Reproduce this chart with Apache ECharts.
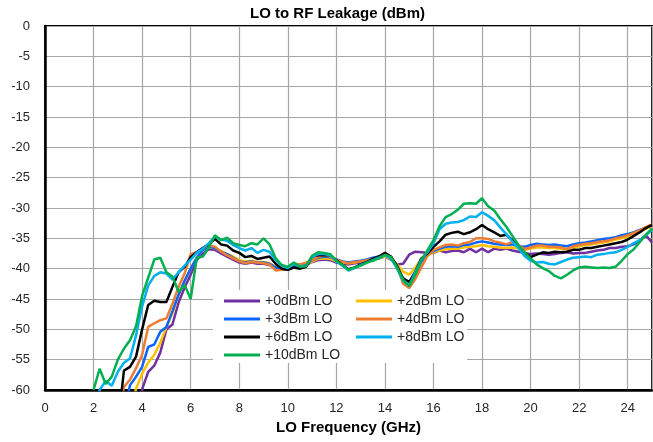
<!DOCTYPE html>
<html><head><meta charset="utf-8">
<script src="https://cdn.jsdelivr.net/npm/echarts@6/dist/echarts.min.js"></script>
<style>html,body{margin:0;padding:0;background:#fff}#c{width:653px;height:442px}</style>
</head><body><div id="c"></div>
<script>
const freq = [2,2.25,2.5,2.75,3,3.25,3.5,3.75,4,4.25,4.5,4.75,5,5.25,5.5,5.75,6,6.25,6.5,6.75,7,7.25,7.5,7.75,8,8.25,8.5,8.75,9,9.25,9.5,9.75,10,10.25,10.5,10.75,11,11.25,11.5,11.75,12,12.25,12.5,12.75,13,13.25,13.5,13.75,14,14.25,14.5,14.75,15,15.25,15.5,15.75,16,16.25,16.5,16.75,17,17.25,17.5,17.75,18,18.25,18.5,18.75,19,19.25,19.5,19.75,20,20.25,20.5,20.75,21,21.25,21.5,21.75,22,22.25,22.5,22.75,23,23.25,23.5,23.75,24,24.25,24.5,24.75,25];
const xTicks = [0,2,4,6,8,10,12,14,16,18,20,22,24];
const yTicks = [0,-5,-10,-15,-20,-25,-30,-35,-40,-45,-50,-55,-60];
const names = ['+0dBm LO','+2dBm LO','+3dBm LO','+4dBm LO','+6dBm LO','+8dBm LO','+10dBm LO'];
const colors = ['#7030a0','#ffc000','#0a64ff','#ed7d31','#000000','#00b0f0','#00b050'];
const lo0 = [null,null,null,null, null,null,null,-66,
 -59.9,-57,-56,-53.8, -50,-49.2,-45.6,-43.1, -41,-38.6,-37.5,-36.8, -36.9,-37.5,-38,-38.5,
 -39,-39.2,-39,-39.2, -39.2,-39.4,-39.8,-40, -40.2,-39.8,-39.3,-39.4, -38.9,-38.6,-38.5,-38.6,
 -39,-39.2,-39.3,-39.1, -39,-38.8,-38.5,-38.3, -38,-38.5,-39.3,-39.2, -37.7,-37.2,-37.3,-37.4,
 -37.4,-37,-37.3,-37.1, -37,-37.3,-36.7,-37.3, -36.7,-37.3,-36.7,-36.9, -36.7,-37,-37.2,-37.4,
 -37.6,-37.5,-37.6,-37.7, -37.6,-37.4,-37.3,-37.5, -37.4,-37.4,-37.2,-37, -36.9,-36.6,-36.6,-36.4,
 -36.3,-36,-35.3,-34.5, -35.7];
const lo2 = [null,null,null,null, null,null,-64,-59.8,
 -57.3,-55.5,-54.2,-52.2, -49.6,-47.4,-44.4,-42, -40,-38.2,-36.9,-36.5, -36.6,-37.1,-37.6,-38,
 -38.6,-38.8,-38.7,-38.9, -38.9,-39.1,-39.7,-39.9, -40,-39.5,-39.4,-39.3, -38.8,-38.4,-38.3,-38.4,
 -38.8,-39,-39.1,-39, -38.8,-38.6,-38.4,-38.2, -38,-38.4,-39.3,-40.5, -41,-39.8,-38.5,-37.8,
 -37.3,-37,-36.8,-36.7, -36.7,-36.5,-36.4,-36.3, -36.1,-36.3,-36.4,-36.5, -36.6,-36.5,-36.7,-36.9,
 -36.7,-36.5,-36.5,-36.6, -36.6,-36.7,-36.8,-36.5, -36.3,-36.1,-36,-35.8, -35.7,-35.5,-35.2,-35,
 -34.7,-34.3,-33.9,-33.4, -33.1];
const lo3 = [null,null,null,null, null,-64,-59.2,-57.8,
 -56.2,-52.9,-52.5,-50.4, -49.6,-47,-44.3,-42, -40,-38.2,-36.9,-36.4, -36.6,-37.2,-37.6,-38.2,
 -38.8,-39,-38.8,-39, -39,-39.2,-39.8,-40, -40,-39.5,-39.4,-39.2, -38.6,-38.2,-38,-38.1,
 -38.5,-38.8,-39,-38.8, -38.7,-38.5,-38.2,-38, -37.8,-38.2,-39.5,-42, -43,-41,-38.9,-37.7,
 -37.1,-36.7,-36.4,-36.3, -36.4,-36.1,-36,-35.7, -35.5,-35.7,-35.9,-36, -36.1,-36,-36.3,-36.4,
 -36.1,-35.9,-36,-36.1, -36,-36.2,-36.3,-36, -35.8,-35.7,-35.5,-35.3, -35.1,-35,-34.8,-34.5,
 -34.3,-34,-33.6,-33.2, -32.9];
const lo4 = [null,null,null,null, -64,-59.5,-58.3,-56.4,
 -54.2,-49.6,-49,-48.5, -48.2,-45.8,-43,-40.8, -37.6,-37.3,-36.6,-36.2, -36.4,-37.2,-37.8,-38.3,
 -38.8,-39.1,-38.9,-39, -39.1,-39.3,-40.3,-40.2, -39.9,-39.2,-39.3,-39, -38.6,-38.1,-37.8,-38,
 -38.5,-38.9,-39.1,-38.9, -38.8,-38.6,-38.4,-38.1, -37.8,-38.3,-39.6,-42.5, -43.2,-41.7,-39.8,-37.9,
 -36.9,-36.5,-36.1,-36, -36.2,-35.8,-35.6,-35, -35,-35.1,-35.5,-35.7, -36,-35.6,-36.1,-36.8,
 -36.5,-36.2,-36.2,-36.4, -36.4,-36.5,-36.8,-36.3, -36.1,-35.9,-35.8,-35.6, -35.5,-35.3,-35,-34.8,
 -34.5,-34.1,-33.7,-33.1, -32.7];
const lo6 = [null,null,null,null, -66,-56.8,-56.2,-54.5,
 -50,-46,-45.3,-45.5, -45.5,-43,-40.6,-39.7, -38.1,-37.3,-36.6,-36, -35.1,-36,-36.2,-37,
 -37.4,-38.1,-37.9,-38.4, -38.2,-38,-39.2,-40, -40.2,-39.8,-40,-39.7, -38,-37.8,-37.8,-37.8,
 -38.6,-39.4,-40.1,-39.8, -39.3,-38.9,-38.4,-38, -37.4,-38,-39.6,-41.6, -42.2,-40.5,-38.3,-37.5,
 -36.4,-35.5,-34.4,-34.1, -33.9,-34.3,-34,-33.5, -32.8,-33.5,-34,-34.6, -34.4,-35.3,-36.4,-37.4,
 -38.1,-37.7,-37.3,-37.4, -37.2,-37.3,-37.2,-36.9, -36.9,-36.6,-36.6,-36.4, -36.2,-36,-35.8,-35.6,
 -35.2,-34.6,-34,-33.3, -32.8];
const lo8 = [-63,-60,-58.5,-59.3, -57,-55.5,-54.8,-51,
 -46.2,-42.8,-41.2,-40.6, -40.8,-41.8,-40.6,-39.5, -38.5,-37.4,-36.7,-35.8, -34.7,-35.2,-35.4,-36.1,
 -36.6,-37,-36.6,-37.4, -36.9,-37.2,-38.6,-39.5, -39.9,-39.2,-39.6,-39.5, -38.1,-37.6,-37.6,-37.8,
 -38.8,-39.5,-40.3,-39.9, -39.4,-39,-38.6,-38.2, -37.8,-38.3,-40,-42, -42.8,-40.6,-38.5,-37.3,
 -35.8,-33.5,-32.6,-32.4, -32.3,-32,-31.4,-31.5, -30.7,-31.3,-32,-33.2, -34.3,-35.5,-36.6,-37.9,
 -38.7,-39,-38.9,-39.2, -39.3,-38.9,-38.5,-38.2, -38.1,-38,-38.1,-37.7, -37.6,-37.4,-37.3,-36.9,
 -36.4,-35.8,-35.3,-34.5, -33.6];
const lo10 = [-60,-56.5,-59,-57.8, -55,-53.2,-51.8,-49.5,
 -44.5,-41.5,-38.5,-38.2, -40.6,-41.3,-43.8,-42.7, -45,-38.2,-38,-36.5, -34.5,-35.3,-34.9,-35.8,
 -36.1,-36.3,-35.8,-36, -35,-36,-38.3,-39.4, -39.7,-39,-39.7,-39.6, -37.9,-37.3,-37.4,-37.6,
 -38.7,-39.4,-40.2,-39.8, -39.5,-39,-38.7,-38.3, -37.7,-38.1,-39.8,-41.8, -42.9,-41,-38.6,-37,
 -35.3,-33,-31.5,-31, -30.3,-29.3,-29.2,-29.3, -28.4,-29.7,-30.4,-31.8, -33.1,-34.6,-36.1,-37.3,
 -38.3,-39.3,-39.9,-40.4, -41.2,-41.6,-41,-40.3, -39.8,-39.7,-39.8,-39.9, -39.8,-39.9,-39.7,-38.7,
 -37.6,-36.8,-35.6,-34.4, -33.4];
const seriesValues = [lo0, lo2, lo3, lo4, lo6, lo8, lo10];

const chart = echarts.init(document.getElementById('c'), null, {renderer:'canvas'});
const lblColor = '#262626';
const legendCommon = {
  orient:'vertical', icon:'rect', itemWidth:36, itemHeight:3, itemGap:4,
  textStyle:{fontSize:14, color:lblColor, fontFamily:'Liberation Sans', lineHeight:14}
};
chart.setOption({
  animation:false,
  backgroundColor:'#fff',
  title:{text:'LO to RF Leakage (dBm)', left:250, top:6, padding:0,
    textStyle:{fontSize:15, fontWeight:'bold', color:'#000', fontFamily:'Liberation Sans'}},
  grid:{left:45, top:26, right:1, bottom:52, show:true, borderColor:'#000', borderWidth:1.8, backgroundColor:'transparent'},
  legend:[
    Object.assign({}, legendCommon, {data:[names[0],names[2],names[4],names[6]], left:213, top:290,
      padding:[4,127,1,11], backgroundColor:'#fff'}),
    Object.assign({}, legendCommon, {data:[names[1],names[3],names[5]], left:356, top:294, padding:0})
  ],
  xAxis:{type:'value', min:0, max:25, interval:2,
    name:'LO Frequency (GHz)', nameLocation:'middle', nameGap:30,
    nameTextStyle:{fontSize:15, fontWeight:'bold', color:'#000', fontFamily:'Liberation Sans'},
    axisLine:{show:true, onZero:false, lineStyle:{color:'#000', width:2.5}},
    axisTick:{show:false},
    axisLabel:{fontSize:13, color:lblColor, margin:12, showMaxLabel:false, fontFamily:'Liberation Sans',
      formatter:v => xTicks.includes(v) ? String(v) : ''},
    splitLine:{show:true, lineStyle:{color:'#a6a6a6', width:1.2}}},
  yAxis:{type:'value', min:-60, max:0, interval:5,
    axisLine:{show:true, onZero:false, lineStyle:{color:'#000', width:2.5}},
    axisTick:{show:false},
    axisLabel:{fontSize:13, color:lblColor, margin:15, fontFamily:'Liberation Sans',
      formatter:v => yTicks.includes(v) ? String(v) : ''},
    splitLine:{show:true, lineStyle:{color:'#a6a6a6', width:1.2}}},
  series: names.map((n,i) => ({
    name:n, type:'line', symbol:'none', clip:true, connectNulls:false,
    lineStyle:{color:colors[i], width:2.5}, itemStyle:{color:colors[i]},
    data: freq.map((f,k) => [f, seriesValues[i][k]])
  }))
});
</script></body></html>
